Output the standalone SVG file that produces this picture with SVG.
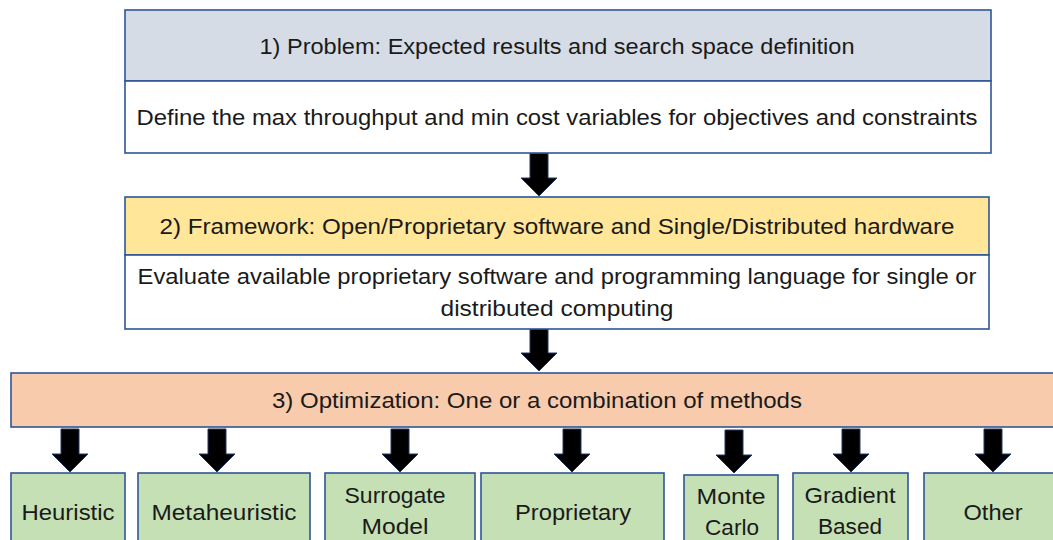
<svg xmlns="http://www.w3.org/2000/svg" xmlns:xlink="http://www.w3.org/1999/xlink" width="1053" height="540" viewBox="0 0 1053 540">
  <style>
    .box { stroke: #2F5597; stroke-width: 1.6; }
    .hdr1 { fill: #D6DCE5; }
    .hdr2 { fill: #FFE699; }
    .hdr3 { fill: #F8CBAD; }
    .body { fill: #FFFFFF; }
    .leaf { fill: #C5E0B4; }
    text { font-family: "Liberation Sans", Arial, sans-serif; font-size: 22px; fill: #1a1a1a; text-anchor: middle; }
    .arrow { fill: #000000; stroke: #1F3864; stroke-width: 1; }
  </style>
  <defs>
    <path id="down" d="M-9 0H9V25H18L0 43L-18 25H-9Z"/>
  </defs>
  <rect width="1053" height="540" fill="#FFFFFF"/>

  <!-- connectors -->
  <g id="connectors">
    <use xlink:href="#down" class="arrow" transform="translate(539,153)"/>
    <use xlink:href="#down" class="arrow" transform="translate(539,328)"/>
    <use xlink:href="#down" class="arrow" transform="translate(70,429)"/>
    <use xlink:href="#down" class="arrow" transform="translate(217,429)"/>
    <use xlink:href="#down" class="arrow" transform="translate(400,429)"/>
    <use xlink:href="#down" class="arrow" transform="translate(572,429)"/>
    <use xlink:href="#down" class="arrow" transform="translate(734,430)"/>
    <use xlink:href="#down" class="arrow" transform="translate(851,429)"/>
    <use xlink:href="#down" class="arrow" transform="translate(993,429)"/>
  </g>

  <!-- step 1 -->
  <g id="problem">
    <rect class="box hdr1" x="125" y="10" width="866" height="71"/>
    <rect class="box body" x="125" y="81" width="866" height="72"/>
    <text x="557" y="54" textLength="595" lengthAdjust="spacingAndGlyphs">1) Problem: Expected results and search space definition</text>
    <text x="557" y="125" textLength="841" lengthAdjust="spacingAndGlyphs">Define the max throughput and min cost variables for objectives and constraints</text>
  </g>

  <!-- step 2 -->
  <g id="framework">
    <rect class="box hdr2" x="125" y="197" width="864" height="58"/>
    <rect class="box body" x="125" y="255" width="864" height="74"/>
    <text x="557" y="234" textLength="795" lengthAdjust="spacingAndGlyphs">2) Framework: Open/Proprietary software and Single/Distributed hardware</text>
    <text x="557" y="284" textLength="839" lengthAdjust="spacingAndGlyphs">Evaluate available proprietary software and programming language for single or</text>
    <text x="557" y="316" textLength="233" lengthAdjust="spacingAndGlyphs">distributed computing</text>
  </g>

  <!-- step 3 -->
  <g id="optimization">
    <rect class="box hdr3" x="11" y="373" width="1045" height="54"/>
    <text x="537" y="408" textLength="530" lengthAdjust="spacingAndGlyphs">3) Optimization: One or a combination of methods</text>
  </g>

  <!-- methods -->
  <g id="heuristic">
    <rect class="box leaf" x="11" y="473" width="114" height="80"/>
    <text x="68" y="520" textLength="93" lengthAdjust="spacingAndGlyphs">Heuristic</text>
  </g>
  <g id="metaheuristic">
    <rect class="box leaf" x="138" y="473" width="172" height="80"/>
    <text x="224" y="520" textLength="145" lengthAdjust="spacingAndGlyphs">Metaheuristic</text>
  </g>
  <g id="surrogate">
    <rect class="box leaf" x="325" y="473" width="150" height="80"/>
    <text x="395" y="503" textLength="101" lengthAdjust="spacingAndGlyphs">Surrogate</text>
    <text x="395" y="534" textLength="67" lengthAdjust="spacingAndGlyphs">Model</text>
  </g>
  <g id="proprietary">
    <rect class="box leaf" x="481" y="473" width="183" height="80"/>
    <text x="573" y="520" textLength="116" lengthAdjust="spacingAndGlyphs">Proprietary</text>
  </g>
  <g id="montecarlo">
    <rect class="box leaf" x="684" y="475" width="94" height="80"/>
    <text x="731" y="504" textLength="69" lengthAdjust="spacingAndGlyphs">Monte</text>
    <text x="732" y="535" textLength="54" lengthAdjust="spacingAndGlyphs">Carlo</text>
  </g>
  <g id="gradient">
    <rect class="box leaf" x="793" y="473" width="115" height="80"/>
    <text x="850" y="503" textLength="91" lengthAdjust="spacingAndGlyphs">Gradient</text>
    <text x="850" y="534" textLength="64" lengthAdjust="spacingAndGlyphs">Based</text>
  </g>
  <g id="other">
    <rect class="box leaf" x="924" y="473" width="140" height="80"/>
    <text x="993" y="520" textLength="59" lengthAdjust="spacingAndGlyphs">Other</text>
  </g>
</svg>
